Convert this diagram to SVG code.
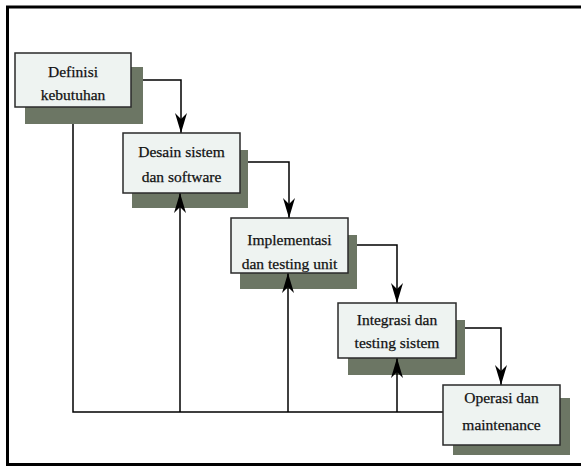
<svg xmlns="http://www.w3.org/2000/svg" width="581" height="467" viewBox="0 0 581 467">
<defs>
<marker id="ah" markerUnits="userSpaceOnUse" markerWidth="22" markerHeight="12" refX="20" refY="6" orient="auto">
<path d="M0,0 L20,6 L0,12 L6,6 Z" fill="#000"/>
</marker>
<style>
.box{fill:#eef3f1;stroke:#2a2a2a;stroke-width:1.5}
.sh{fill:#6c7664}
.t{font-family:"Liberation Serif","Times New Roman",serif;font-size:15.5px;fill:#111;stroke:#111;stroke-width:0.25;text-anchor:middle}
.c{fill:none;stroke:#000;stroke-width:1.5}
</style>
</defs>
<rect x="0" y="0" width="581" height="467" fill="#fff"/>
<rect x="7.5" y="7" width="600" height="457.5" fill="none" stroke="#000" stroke-width="3"/>
<g id="shadows">
<rect class="sh" x="25" y="67" width="118" height="57"/>
<rect class="sh" x="132" y="150" width="116" height="58"/>
<rect class="sh" x="240" y="235" width="117" height="54"/>
<rect class="sh" x="348" y="320" width="117" height="55"/>
<rect class="sh" x="453" y="398" width="117" height="57"/>
</g>
<g id="connectors">
<path class="c" d="M143,80 H181 V133" marker-end="url(#ah)"/>
<path class="c" d="M248,162 H289 V218" marker-end="url(#ah)"/>
<path class="c" d="M357,245 H397 V303" marker-end="url(#ah)"/>
<path class="c" d="M465,328 H501 V385" marker-end="url(#ah)"/>
<path class="c" d="M73,124 V412 H443"/>
<path class="c" d="M180,412 V193" marker-end="url(#ah)"/>
<path class="c" d="M288,412 V273" marker-end="url(#ah)"/>
<path class="c" d="M397,412 V358" marker-end="url(#ah)"/>
</g>
<g id="n1">
<rect class="box" x="15" y="53" width="116" height="54"/>
<text class="t" x="73" y="77">Definisi</text>
<text class="t" x="73" y="100">kebutuhan</text>
</g>
<g id="n2">
<rect class="box" x="123" y="133" width="117" height="60"/>
<text class="t" x="181.5" y="157">Desain sistem</text>
<text class="t" x="181.5" y="182">dan software</text>
</g>
<g id="n3">
<rect class="box" x="231" y="218" width="117" height="55"/>
<text class="t" x="289.5" y="245">Implementasi</text>
<text class="t" x="289.5" y="269">dan testing unit</text>
</g>
<g id="n4">
<rect class="box" x="338" y="303" width="118" height="55"/>
<text class="t" x="397" y="325">Integrasi dan</text>
<text class="t" x="397" y="348">testing sistem</text>
</g>
<g id="n5">
<rect class="box" x="443" y="385" width="117" height="60"/>
<text class="t" x="501.5" y="403">Operasi dan</text>
<text class="t" x="501.5" y="430">maintenance</text>
</g>
</svg>
